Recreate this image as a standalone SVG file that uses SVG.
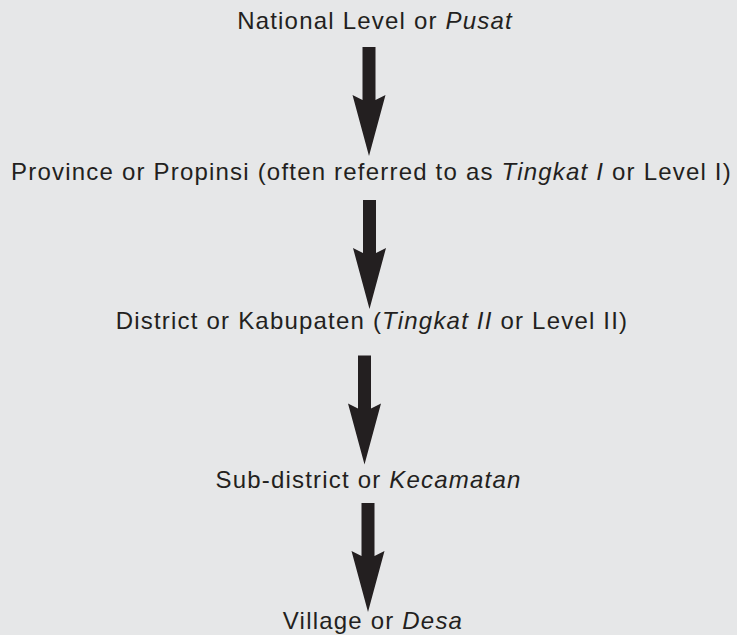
<svg xmlns="http://www.w3.org/2000/svg" xmlns:xlink="http://www.w3.org/1999/xlink" width="737" height="635" viewBox="0 0 737 635">
<style>
  .lbl { font-family: "Liberation Sans", Arial, sans-serif; font-size: 24px; fill: #231f20; text-anchor: middle; letter-spacing: 1.2px; }
  .it { font-style: italic; }
  .arr { fill: #231f20; }
</style>
<defs>
  <path id="arrow" d="M-6.5,0 L6.5,0 L6.5,53 L16.5,48 L0,109 L-16.5,48 L-6.5,53 Z"/>
</defs>
<rect width="737" height="635" fill="#e6e7e8"/>
<g id="connectors" class="arr">
  <use xlink:href="#arrow" transform="translate(369,47)"/>
  <use xlink:href="#arrow" transform="translate(369.5,200)"/>
  <use xlink:href="#arrow" transform="translate(364.5,355.5)"/>
  <use xlink:href="#arrow" transform="translate(368,503)"/>
</g>
<g id="national"><text class="lbl" x="375" y="29">National Level or <tspan class="it">Pusat</tspan></text></g>
<g id="province"><text class="lbl" x="371.5" y="180">Province or Propinsi (often referred to as <tspan class="it">Tingkat I</tspan> or Level I)</text></g>
<g id="district"><text class="lbl" x="372" y="329">District or Kabupaten (<tspan class="it">Tingkat II</tspan> or Level II)</text></g>
<g id="subdistrict"><text class="lbl" x="368.5" y="488">Sub-district or <tspan class="it">Kecamatan</tspan></text></g>
<g id="village"><text class="lbl" x="373" y="629">Village or <tspan class="it">Desa</tspan></text></g>
</svg>
